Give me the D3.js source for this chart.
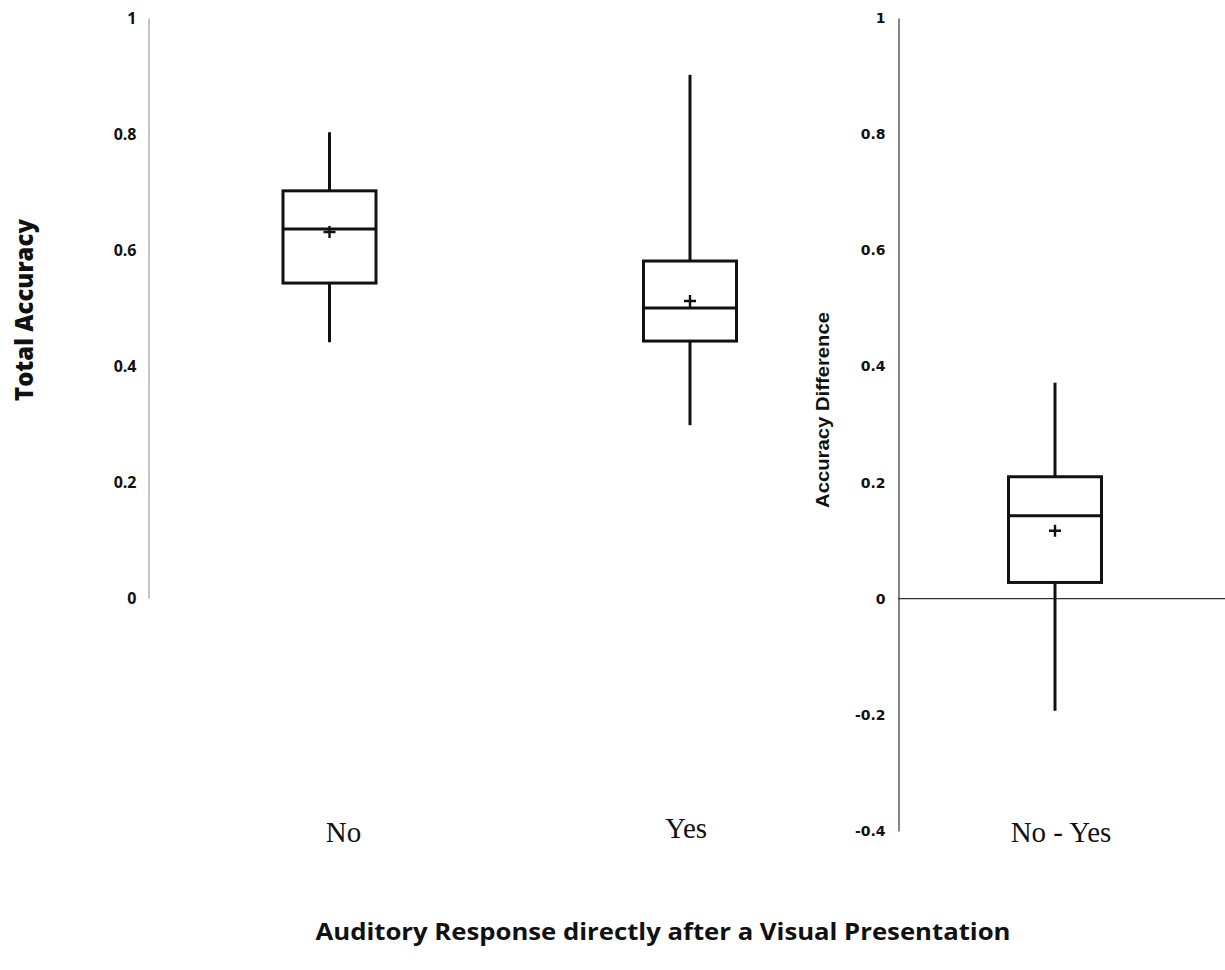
<!DOCTYPE html>
<html>
<head>
<meta charset="utf-8">
<script src="https://cdn.jsdelivr.net/npm/d3@7"></script>
<style>
  body { margin: 0; background: #fff; }
  svg { display: block; }
</style>
</head>
<body>
<div id="vis"></div>
<script>
// categories and box statistics
var groups = ["No", "Yes"];
var groupStats = {
  min:    [0.441, 0.298],
  q1:     [0.543, 0.443],
  median: [0.636, 0.500],
  q3:     [0.702, 0.581],
  max:    [0.803, 0.902],
  mean:   [0.631, 0.512]
};
var diffGroups = ["No - Yes"];
var diffStats = {
  min:    [-0.193],
  q1:     [0.028],
  median: [0.143],
  q3:     [0.210],
  max:    [0.372],
  mean:   [0.117]
};
var leftTicks = [0, 0.2, 0.4, 0.6, 0.8, 1];
var rightTicks = [-0.4, -0.2, 0, 0.2, 0.4, 0.6, 0.8, 1];

var width = 1225, height = 970;
var boxW = 93;

var svg = d3.select("#vis").append("svg")
    .attr("width", width)
    .attr("height", height);

// scales
var yL = d3.scaleLinear().domain([0, 1]).range([598, 18]);
var yR = d3.scaleLinear().domain([-0.4, 1]).range([831, 18]);
var xL = d3.scalePoint().domain(groups).range([329.5, 690]);
var xR = d3.scalePoint().domain(diffGroups).range([1000, 1110]).padding(0.5);

// plain hyphen for negatives, like the original
function fmt(d) { return d === 0 || d === 1 ? String(d) : d.toFixed(1); }

function toRows(names, s) {
  return names.map(function(n, i) {
    return {name: n, min: s.min[i], q1: s.q1[i], median: s.median[i],
            q3: s.q3[i], max: s.max[i], mean: s.mean[i]};
  });
}

// left axis
var axL = svg.append("g")
    .attr("transform", "translate(148.5,0)")
    .attr("font-size", null)
    .call(d3.axisLeft(yL).tickValues(leftTicks).tickSize(0).tickPadding(12).tickFormat(fmt));
axL.select(".domain").attr("stroke", "#8a8a8a").attr("stroke-width", 1);
axL.selectAll("text")
    .style("font-family", "'Open Sans', sans-serif")
    .style("font-weight", "bold")
    .style("font-size", "16px")
    .attr("fill", "#111");

// right axis
var axR = svg.append("g")
    .attr("transform", "translate(898.5,0)")
    .call(d3.axisLeft(yR).tickValues(rightTicks).tickSize(0).tickPadding(13).tickFormat(fmt));
axR.select(".domain").attr("stroke", "#333").attr("stroke-width", 1.2);
axR.selectAll("text")
    .style("font-family", "'DejaVu Sans', sans-serif")
    .style("font-weight", "bold")
    .style("font-size", "14px")
    .attr("fill", "#111");

// zero line on the difference panel
svg.append("line")
    .attr("x1", 898).attr("x2", width)
    .attr("y1", yR(0)).attr("y2", yR(0))
    .attr("stroke", "#333").attr("stroke-width", 1.2);

function drawBoxes(g, rows, x, y) {
  var b = g.selectAll("g.box").data(rows).enter().append("g").attr("class", "box");
  // whiskers
  b.append("line")
      .attr("x1", function(d) { return x(d.name); })
      .attr("x2", function(d) { return x(d.name); })
      .attr("y1", function(d) { return y(d.max); })
      .attr("y2", function(d) { return y(d.q3); })
      .attr("stroke", "#111").attr("stroke-width", 3);
  b.append("line")
      .attr("x1", function(d) { return x(d.name); })
      .attr("x2", function(d) { return x(d.name); })
      .attr("y1", function(d) { return y(d.q1); })
      .attr("y2", function(d) { return y(d.min); })
      .attr("stroke", "#111").attr("stroke-width", 3);
  // box
  b.append("rect")
      .attr("x", function(d) { return x(d.name) - boxW / 2; })
      .attr("y", function(d) { return y(d.q3); })
      .attr("width", boxW)
      .attr("height", function(d) { return y(d.q1) - y(d.q3); })
      .attr("fill", "#fff").attr("stroke", "#111").attr("stroke-width", 3);
  // median
  b.append("line")
      .attr("x1", function(d) { return x(d.name) - boxW / 2; })
      .attr("x2", function(d) { return x(d.name) + boxW / 2; })
      .attr("y1", function(d) { return y(d.median); })
      .attr("y2", function(d) { return y(d.median); })
      .attr("stroke", "#111").attr("stroke-width", 3);
  // mean marker
  b.append("path")
      .attr("d", function(d) {
        var cx = x(d.name), cy = y(d.mean);
        return "M" + (cx - 6) + "," + cy + "H" + (cx + 6) +
               "M" + cx + "," + (cy - 6) + "V" + (cy + 6);
      })
      .attr("stroke", "#111").attr("stroke-width", 2.4).attr("fill", "none");
}

drawBoxes(svg.append("g"), toRows(groups, groupStats), xL, yL);
drawBoxes(svg.append("g"), toRows(diffGroups, diffStats), xR, yR);

// category labels
var labelNudge = {"No": 14, "Yes": -4, "No - Yes": 6};
var labelY = {"No": 842, "Yes": 838, "No - Yes": 842};
groups.concat(diffGroups).forEach(function(n) {
  var cx = groups.indexOf(n) >= 0 ? xL(n) : xR(n);
  svg.append("text")
      .attr("x", cx + labelNudge[n])
      .attr("y", labelY[n])
      .attr("text-anchor", "middle")
      .attr("font-family", "'Liberation Serif', 'Times New Roman', serif")
      .attr("font-size", 29)
      .attr("fill", "#111")
      .text(n);
});

// axis titles
svg.append("text")
    .attr("transform", "translate(33,310) rotate(-90)")
    .attr("text-anchor", "middle")
    .attr("font-family", "'Open Sans', sans-serif")
    .attr("font-weight", 800)
    .attr("font-size", 24)
    .attr("textLength", 182)
    .attr("lengthAdjust", "spacingAndGlyphs")
    .attr("fill", "#111")
    .text("Total Accuracy");

svg.append("text")
    .attr("transform", "translate(829,410) rotate(-90)")
    .attr("text-anchor", "middle")
    .attr("font-family", "'Liberation Sans', Arial, sans-serif")
    .attr("font-weight", "bold")
    .attr("font-size", 19)
    .attr("textLength", 196)
    .attr("lengthAdjust", "spacingAndGlyphs")
    .attr("fill", "#111")
    .text("Accuracy Difference");

svg.append("text")
    .attr("x", 663)
    .attr("y", 940)
    .attr("text-anchor", "middle")
    .attr("font-family", "'Open Sans', sans-serif")
    .attr("font-weight", "bold")
    .attr("font-size", 24)
    .attr("textLength", 695)
    .attr("lengthAdjust", "spacingAndGlyphs")
    .attr("fill", "#111")
    .text("Auditory Response directly after a Visual Presentation");
</script>
</body>
</html>
